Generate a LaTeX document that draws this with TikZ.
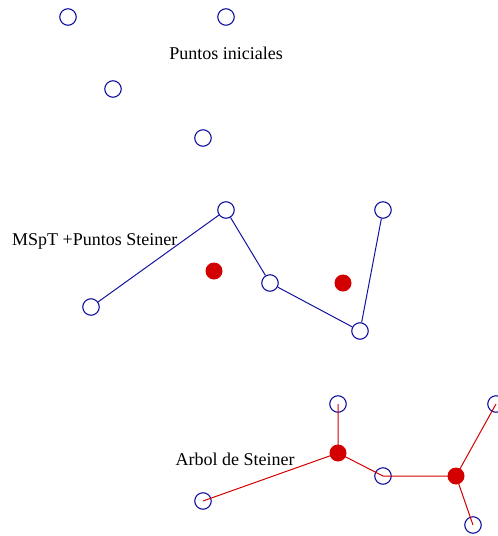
\documentclass[tikz,border=0pt]{standalone}
\usepackage{fontspec}
\setmainfont{Liberation Serif}
\begin{document}
\begin{tikzpicture}[x=1pt,y=-1pt,
  pt/.style={circle,draw=ptblue,line width=1.1pt,fill=white,minimum size=16.5pt,inner sep=0pt},
  st/.style={circle,fill=stred,minimum size=17pt,inner sep=0pt},
  mst/.style={draw=ptblue,line width=1pt},
  tree/.style={draw=stred,line width=1pt},
  lbl/.style={font=\fontsize{18}{20}\selectfont,inner sep=0pt}]
\definecolor{ptblue}{RGB}{20,20,160}
\definecolor{stred}{RGB}{210,0,0}
\useasboundingbox (0,0) rectangle (498,536);

% initial points
\node[pt] (a1) at (68,17) {};
\node[pt] (a2) at (226,17) {};
\node[pt] (a3) at (113,89) {};
\node[pt] (a4) at (203,138) {};
\node[lbl] (t1) at (226,53) {Puntos iniciales};

% minimum spanning tree plus Steiner points
\node[pt] (b1) at (91,307) {};
\node[pt] (b2) at (226,210) {};
\node[pt] (b3) at (270,283) {};
\node[pt] (b4) at (360,331) {};
\node[pt] (b5) at (383,210) {};
\node[st] (s1) at (214,271) {};
\node[st] (s2) at (343,283) {};
\draw[mst] (b1) -- (b2) -- (b3) -- (b4) -- (b5);
\node[lbl,anchor=west] (t2) at (12,241) {MSpT +Puntos Steiner};

% Steiner tree
\node[pt] (c1) at (338,404) {};
\node[pt] (c2) at (203,501) {};
\node[pt] (c3) at (383,476) {};
\node[pt] (c4) at (473,525) {};
\node[pt] (c5) at (496,404) {};
\node[st] (r1) at (338,453) {};
\node[st] (r2) at (456,476) {};
\draw[tree] (c2.center) -- (r1.center) -- (c1.center);
\draw[tree] (r1.center) -- (c3.center) -- (r2.center) -- (c5.center);
\draw[tree] (r2.center) -- (c4.center);
\node[lbl] (t3) at (235,459) {Arbol de Steiner};
\end{tikzpicture}
\end{document}
